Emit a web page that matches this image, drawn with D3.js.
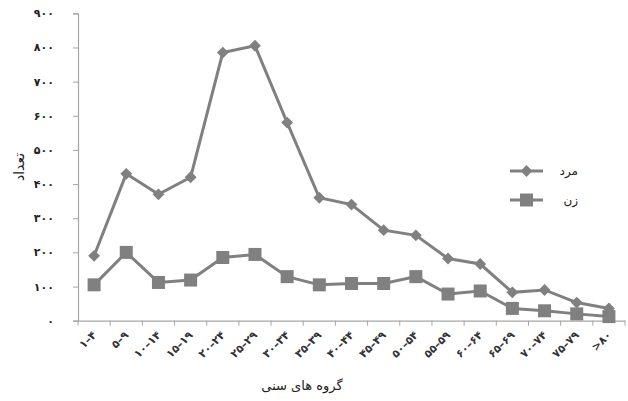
<!DOCTYPE html>
<html><head><meta charset="utf-8">
<script src="https://cdn.jsdelivr.net/npm/d3@7"></script>
<style>body{margin:0;background:#fff}svg{display:block}text{font-family:"DejaVu Sans",sans-serif}</style>
</head><body><div id="c"></div>
<script>
const categories = ["۱–۴","۵–۹","۱۰–۱۴","۱۵–۱۹","۲۰–۲۴","۲۵–۲۹","۳۰–۳۴","۳۵–۳۹","۴۰–۴۴","۴۵–۴۹","۵۰–۵۴","۵۵–۵۹","۶۰–۶۴","۶۵–۶۹","۷۰–۷۴","۷۵–۷۹",">۸۰"];
const male = [190,430,370,420,785,805,580,360,340,265,250,182,166,83,90,53,36];
const female = [105,200,112,119,185,194,129,105,109,109,129,78,87,36,29,20,12];
const yTicks = [0,100,200,300,400,500,600,700,800,900];
const yTickLabels = ["۰","۱۰۰","۲۰۰","۳۰۰","۴۰۰","۵۰۰","۶۰۰","۷۰۰","۸۰۰","۹۰۰"];
const seriesNames = ["مرد","زن"];
const yTitle = "تعداد";
const xTitle = "گروه های سنی";

const W=628,H=401, L=78, R=625, T=13.3, B=320.7;
const svg=d3.select("#c").append("svg").attr("width",W).attr("height",H);
const x=d3.scaleBand().domain(categories).range([L,R]);
const y=d3.scaleLinear().domain([0,900]).range([B,T]);
const col="#808080", axisCol="#a6a6a6";

// y axis
const ya=svg.append("g").attr("transform",`translate(${L},0)`)
 .call(d3.axisLeft(y).tickValues(yTicks).tickSize(5).tickFormat((d,i)=>yTickLabels[i]));
ya.select(".domain").attr("stroke",axisCol).attr("stroke-width",1.2);
ya.selectAll(".tick line").attr("stroke",axisCol);
ya.selectAll(".tick text").attr("fill","#222").attr("font-size",11).attr("font-weight","bold").attr("x",-24);

// x axis
const xa=svg.append("g").attr("transform",`translate(0,${B})`)
 .call(d3.axisBottom(x).tickSize(0).tickFormat(""));
xa.select(".domain").attr("stroke",axisCol).attr("stroke-width",1.2);
const bounds=categories.map(c=>x(c)).concat([x(categories[categories.length-1])+x.bandwidth()]);
svg.append("g").selectAll("line").data(bounds).join("line")
 .attr("x1",d=>d).attr("x2",d=>d).attr("y1",B).attr("y2",B+5).attr("stroke",axisCol);
svg.append("g").selectAll("text").data(categories).join("text")
 .attr("transform",d=>`translate(${x(d)+x.bandwidth()/2+3},${B+15}) rotate(-45)`)
 .attr("text-anchor","end").attr("font-size",11).attr("font-weight","bold").attr("fill","#333")
 .attr("direction","ltr").text(d=>d);

// titles
svg.append("text").attr("transform",`translate(24,167) rotate(-90)`).attr("text-anchor","middle")
 .attr("font-size",14).attr("fill","#222").text(yTitle);
svg.append("text").attr("x",302).attr("y",390).attr("text-anchor","middle")
 .attr("font-size",13).attr("fill","#222").text(xTitle);

const cx=(d,i)=>x(categories[i])+x.bandwidth()/2;
const line=d3.line().x(cx).y(d=>y(d));
svg.append("path").datum(male).attr("d",line).attr("fill","none").attr("stroke",col).attr("stroke-width",3);
svg.append("path").datum(female).attr("d",line).attr("fill","none").attr("stroke",col).attr("stroke-width",3);
const diamond=d3.symbol().type(d3.symbolSquare).size(70);
svg.append("g").selectAll("path").data(male).join("path")
 .attr("d",diamond()).attr("transform",(d,i)=>`translate(${cx(d,i)},${y(d)}) rotate(45)`).attr("fill",col);
svg.append("g").selectAll("rect").data(female).join("rect")
 .attr("x",(d,i)=>cx(d,i)-6.5).attr("y",d=>y(d)-6.5).attr("width",13).attr("height",13).attr("fill",col);

// legend
const lg=svg.append("g");
[171,200].forEach((yy,k)=>{
  lg.append("line").attr("x1",510).attr("x2",543).attr("y1",yy).attr("y2",yy).attr("stroke",col).attr("stroke-width",3);
  if(k===0) lg.append("path").attr("d",diamond()).attr("transform",`translate(526.5,${yy}) rotate(45)`).attr("fill",col);
  else lg.append("rect").attr("x",520).attr("y",yy-6.5).attr("width",13).attr("height",13).attr("fill",col);
  lg.append("text").attr("x",578).attr("y",yy+4).attr("text-anchor","end").attr("font-size",12).attr("fill","#222").text(seriesNames[k]);
});
</script></body></html>
